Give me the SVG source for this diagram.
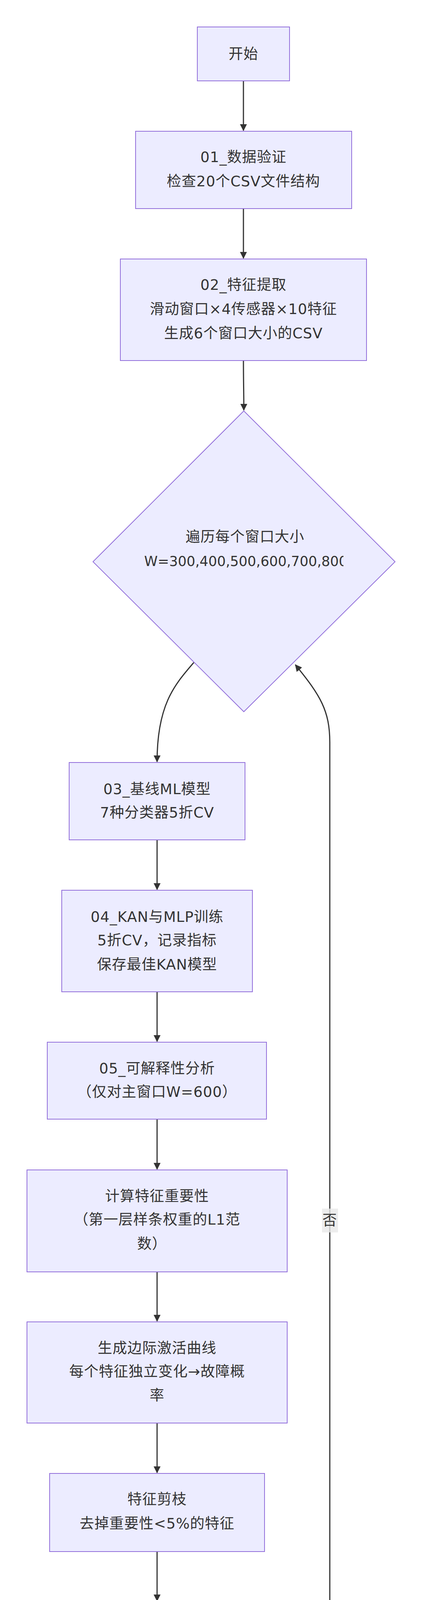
<svg xmlns="http://www.w3.org/2000/svg" width="1080" height="5637" viewBox="0 0 1080 5637">
<style>
.n{fill:#ECECFF;stroke:#9370DB;stroke-width:2}
.t{font-family:"DejaVu Sans","Noto Sans CJK SC",sans-serif;font-size:37px;fill:#333;text-anchor:middle;letter-spacing:1px}
.e{fill:none;stroke:#333;stroke-width:3}
.lb{fill:#E8E8E8;opacity:0.8}
</style>
<defs>
<marker id="a" viewBox="0 0 10 10" refX="9" refY="5" markerWidth="6" markerHeight="6" orient="auto"><path d="M0,0L10,5L0,10z" fill="#333"/></marker>
<clipPath id="c1"><rect x="0" y="0" width="879" height="5637"/></clipPath>
</defs>
<rect width="1080" height="5637" fill="#fff"/>
<g id="edges">
<path class="e" d="M623,207V334" marker-end="url(#a)"/>
<path class="e" d="M623,534V661" marker-end="url(#a)"/>
<path class="e" d="M623,923C623,980 624,1000 624,1050" marker-end="url(#a)"/>
<path class="e" d="M496,1696C450,1750 402,1800 402,1950" marker-end="url(#a)"/>
<path class="e" d="M402,2150V2277" marker-end="url(#a)"/>
<path class="e" d="M402,2539V2666" marker-end="url(#a)"/>
<path class="e" d="M402,2865V2993" marker-end="url(#a)"/>
<path class="e" d="M402,3256V3382" marker-end="url(#a)"/>
<path class="e" d="M402,3643V3770" marker-end="url(#a)"/>
<path class="e" d="M402,3972V4098" marker-end="url(#a)"/>
<path class="e" d="M402,4299C402,4380 420,4420 517,4532" marker-end="url(#a)"/>
<path class="e" d="M734,4534C820,4460 844,4400 844,4268V1900C844,1820 820,1780 756,1702" marker-end="url(#a)"/>
<path class="e" d="M624,4972V5162" marker-end="url(#a)"/>
<path class="e" d="M623,5301V5427" marker-end="url(#a)"/>
<rect class="lb" x="824" y="3094" width="41" height="61"/>
<text class="t" x="844" y="3137">否</text>
<rect class="lb" x="603" y="5037" width="41" height="61"/>
<text class="t" x="624" y="5080">是</text>
</g>
<g id="start"><rect class="n" x="505" y="69" width="236" height="138"/><text class="t" x="623" y="151">开始</text></g>
<g id="n01"><rect class="n" x="347" y="336" width="553" height="198"/><text class="t" x="623" y="415">01_数据验证</text><text class="t" x="623" y="477">检查20个CSV文件结构</text></g>
<g id="n02"><rect class="n" x="308" y="663" width="630" height="260"/><text class="t" x="623" y="742">02_特征提取</text><text class="t" x="623" y="804">滑动窗口×4传感器×10特征</text><text class="t" x="623" y="866">生成6个窗口大小的CSV</text></g>
<g id="loop"><polygon class="n" points="624,1052 1011,1438 624,1822 238,1438"/><text class="t" x="627" y="1387">遍历每个窗口大小</text><text class="t" x="369" y="1449" style="text-anchor:start;letter-spacing:0;font-size:35px" clip-path="url(#c1)">W=300,400,500,600,700,800</text></g>
<g id="n03"><rect class="n" x="177" y="1952" width="450" height="198"/><text class="t" x="402" y="2033">03_基线ML模型</text><text class="t" x="402" y="2093">7种分类器5折CV</text></g>
<g id="n04"><rect class="n" x="158" y="2279" width="488" height="260"/><text class="t" x="402" y="2360">04_KAN与MLP训练</text><text class="t" x="402" y="2420">5折CV，记录指标</text><text class="t" x="402" y="2482">保存最佳KAN模型</text></g>
<g id="n05"><rect class="n" x="121" y="2668" width="561" height="197"/><text class="t" x="402" y="2748">05_可解释性分析</text><text class="t" x="402" y="2808">（仅对主窗口W=600）</text></g>
<g id="calc"><rect class="n" x="69" y="2995" width="666" height="261"/><text class="t" x="402" y="3075">计算特征重要性</text><text class="t" x="402" y="3135">（第一层样条权重的L1范</text><text class="t" x="389" y="3197">数）</text></g>
<g id="curve"><rect class="n" x="69" y="3384" width="666" height="259"/><text class="t" x="402" y="3464">生成边际激活曲线</text><text class="t" x="402" y="3524">每个特征独立变化→故障概</text><text class="t" x="402" y="3585">率</text></g>
<g id="prune"><rect class="n" x="127" y="3772" width="550" height="200"/><text class="t" x="402" y="3851">特征剪枝</text><text class="t" x="402" y="3913">去掉重要性&lt;5%的特征</text></g>
<g id="verify"><rect class="n" x="79" y="4100" width="646" height="199"/><text class="t" x="402" y="4180">剪枝验证</text><text class="t" x="402" y="4242">重跑所有模型，对比准确率</text></g>
<g id="done"><polygon class="n" points="624,4428 898,4701 624,4972 351,4701"/><text class="t" x="624" y="4711">是否所有窗口处理完?</text></g>
<g id="save"><rect class="n" x="331" y="5164" width="584" height="137"/><text class="t" x="623" y="5245">保存所有结果到results/</text></g>
<g id="end"><rect class="n" x="505" y="5429" width="236" height="137"/><text class="t" x="623" y="5510">结束</text></g>
<text x="1044" y="5600" style="font-family:'Noto Sans CJK SC',sans-serif;font-size:22px;fill:#aaa;text-anchor:end">公众号 · 高斯的手稿</text>
</svg>
